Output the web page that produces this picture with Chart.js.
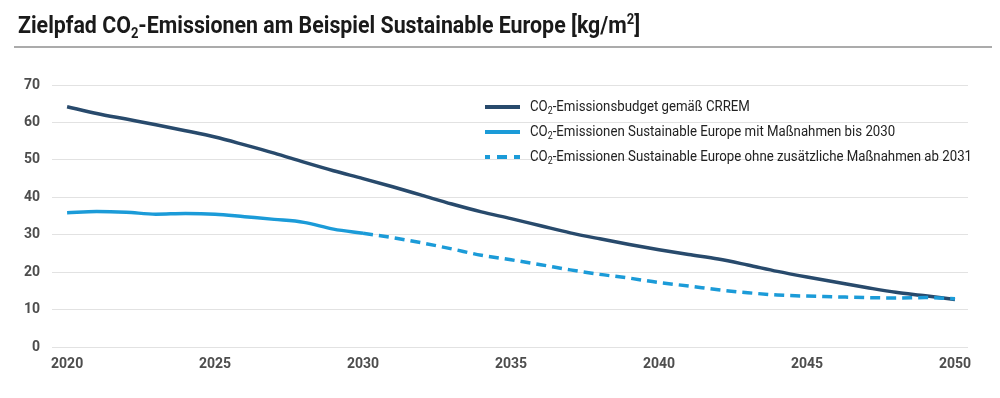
<!DOCTYPE html>
<html>
<head>
<meta charset="utf-8">
<script src="https://cdn.jsdelivr.net/npm/chart.js@4"></script>
<style>
  html,body{margin:0;padding:0;background:#fff;}
  #wrap{position:relative;width:1000px;height:398px;overflow:hidden;font-family:Roboto,"Open Sans",sans-serif;}
  #title{position:absolute;left:18px;top:11px;font-weight:700;font-size:23px;color:#1a1a1a;white-space:nowrap;transform-origin:left top;}
  #title sub,#title sup{font-size:14px;}
  #title sub{vertical-align:-5px;}
  #title sup{vertical-align:9px;}
  #rule{position:absolute;left:14px;top:46px;width:978px;height:2px;background:#ababab;}
  #chart{position:absolute;left:0;top:0;}
  .lg{position:absolute;left:485px;height:20px;}
  .lg .sw{position:absolute;left:0;top:9px;width:35px;height:0;border-top:4px solid;}
  .lg .tx{position:absolute;left:45px;top:0;font-size:15px;color:#222;white-space:nowrap;transform-origin:left top;line-height:20px;}
  .lg sub{font-size:10px;vertical-align:-3px;}
</style>
</head>
<body>
<div id="wrap">
  <canvas id="chart" width="1000" height="398"></canvas>
  <div id="title">Zielpfad CO<sub>2</sub>-Emissionen am Beispiel Sustainable Europe [kg/m<sup>2</sup>]</div>
  <div id="rule"></div>
  <div class="lg" style="top:96px"><div class="sw" style="border-color:#284a6c"></div><div class="tx">CO<sub>2</sub>-Emissionsbudget gemäß CRREM</div></div>
  <div class="lg" style="top:121px"><div class="sw" style="border-color:#1b9bd8"></div><div class="tx">CO<sub>2</sub>-Emissionen Sustainable Europe mit Maßnahmen bis 2030</div></div>
  <div class="lg" style="top:146px"><div class="sw" style="border-top:4px dashed #1b9bd8;border-image:repeating-linear-gradient(90deg,#1b9bd8 0 8px,transparent 8px 13px) 4"></div><div class="tx">CO<sub>2</sub>-Emissionen Sustainable Europe ohne zusätzliche Maßnahmen ab 2031</div></div>
</div>
<script>
const years = [2020,2021,2022,2023,2024,2025,2026,2027,2028,2029,2030,2031,2032,2033,2034,2035,2036,2037,2038,2039,2040,2041,2042,2043,2044,2045,2046,2047,2048,2049,2050];
const crremBudget = [64.2,62.4,60.9,59.4,57.8,56.1,54.0,51.8,49.4,47.1,45.0,42.8,40.5,38.2,36.1,34.3,32.4,30.5,28.9,27.4,26.0,24.7,23.5,21.9,20.2,18.7,17.3,15.9,14.6,13.7,12.7];
const withMeasures = [35.9,36.2,36.0,35.5,35.7,35.5,34.8,34.1,33.3,31.5,30.4];
const withoutMeasuresYears = [2030,2031,2032,2033,2034,2035,2036,2037,2038,2039,2040,2041,2042,2043,2044,2045,2046,2047,2048,2049,2050];
const withoutMeasures = [30.4,29.2,27.8,26.2,24.5,23.3,22.0,20.6,19.4,18.4,17.2,16.3,15.3,14.5,13.9,13.6,13.4,13.2,13.1,13.2,12.9];
const xTicks = [2020,2025,2030,2035,2040,2045,2050];
const yTicks = [0,10,20,30,40,50,60,70];

const dark = '#284a6c', light = '#1b9bd8';
const pts = (xs, ys) => xs.map((x,i)=>({x:x, y:ys[i]})).filter(p=>p.y!=null);

new Chart(document.getElementById('chart'), {
  type: 'line',
  data: {
    datasets: [
      {label:'CO₂-Emissionen Sustainable Europe ohne zusätzliche Maßnahmen ab 2031', data: pts(withoutMeasuresYears, withoutMeasures), borderColor: light, borderWidth: 3.5, borderDash:[10,6], pointRadius: 0, cubicInterpolationMode:'monotone'},
      {label:'CO₂-Emissionen Sustainable Europe mit Maßnahmen bis 2030', data: pts(years.slice(0, withMeasures.length), withMeasures), borderColor: light, borderWidth: 3.5, pointRadius: 0, cubicInterpolationMode:'monotone'},
      {label:'CO₂-Emissionsbudget gemäß CRREM', data: pts(years, crremBudget), borderColor: dark, borderWidth: 3.5, pointRadius: 0, cubicInterpolationMode:'monotone'}
    ]
  },
  options: {
    responsive: false,
    animation: false,
    layout: {padding: {top: 85, right: 32, bottom: 0, left: 0}},
    plugins: {legend: {display: false}, tooltip: {enabled: false}},
    scales: {
      x: {
        type: 'linear', min: 2019.49, max: 2050.44,
        afterBuildTicks: s => { s.ticks = xTicks.map(v=>({value:v})); },
        afterFit: s => { s.height = 51; },
        grid: {display: false, drawTicks: false},
        border: {display: false},
        ticks: {padding: 9, color: '#4d4d4d', font: {family: 'Roboto', size: 14, weight: 'bold'}, callback: v => String(v), maxRotation: 0}
      },
      y: {
        min: 0, max: 70,
        afterBuildTicks: s => { s.ticks = yTicks.map(v=>({value:v})); },
        afterFit: s => { s.width = 52; },
        grid: {color: '#e2e2e2', lineWidth: 1, drawTicks: false},
        border: {display: false},
        ticks: {padding: 12, color: '#4d4d4d', font: {family: 'Roboto', size: 14, weight: 'bold'}}
      }
    }
  }
});

// fit condensed-looking texts to reference widths
const t = document.getElementById('title');
t.style.transform = 'scaleX(' + (622 / t.scrollWidth) + ')';
const txs = document.querySelectorAll('.lg .tx');
const f = 442 / txs[2].scrollWidth;
txs.forEach(e => e.style.transform = 'scaleX(' + f + ')');
</script>
</body>
</html>
